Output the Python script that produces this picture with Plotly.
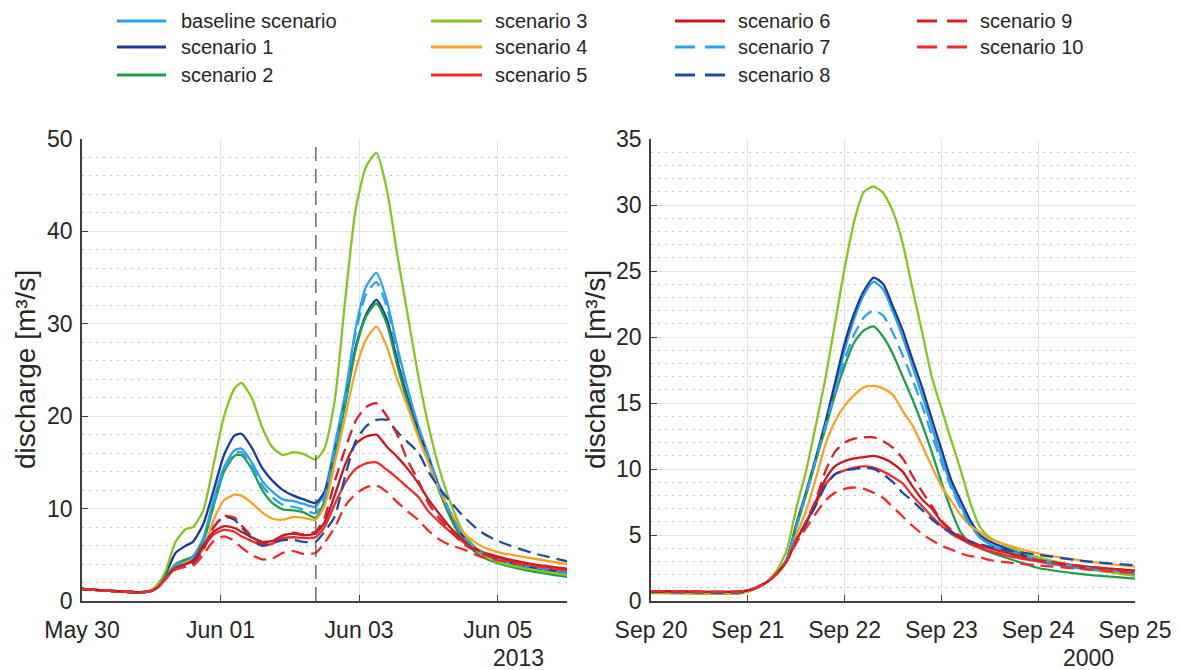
import pandas as pd
import plotly.graph_objects as go

# ---------------- data ----------------
SERIES = ["baseline scenario", "scenario 1", "scenario 2", "scenario 3", "scenario 4",
          "scenario 5", "scenario 6", "scenario 7", "scenario 8", "scenario 9", "scenario 10"]

COLORS = ["#2AA3EE", "#1B3A97", "#1E9E4A", "#86C520", "#F6A325",
          "#EE2B2B", "#C9171F", "#2AA3EE", "#1E4AA3", "#D91E26", "#EE2B2B"]
DASHED = [False, False, False, False, False, False, False, True, True, True, True]

# June 2013 event (days since start)
JUN_START = "2013-05-30"
JUN_END = "2013-06-06"
JUN_SPLIT = "2013-06-02 09:00"
JUN_DAYS = [0, 0.4, 0.85, 1.0, 1.1, 1.2, 1.35, 1.5, 1.6, 1.75, 1.9, 2.05, 2.2, 2.3, 2.45,
            2.6, 2.75, 2.9, 3.05, 3.2, 3.37, 3.5, 3.65, 3.8, 3.95, 4.1, 4.25, 4.4, 4.55,
            4.7, 4.85, 5.0, 5.15, 5.3, 5.5, 5.75, 6.0, 6.5, 7.0]

jun_baseline = [1.3, 1.1, 0.95, 1.1, 1.6, 2.5, 3.9, 4.3, 4.8, 6.8, 11.0, 14.5, 16.3, 16.5, 15.0,
                13.0, 11.8, 11.0, 10.8, 10.5, 10.2, 11.8, 17.0, 22.5, 29.5, 34.0, 35.5, 32.5, 27.5,
                23.0, 19.0, 15.8, 12.5, 9.8, 7.0, 5.3, 4.5, 3.6, 3.0]
jun_s1 = [1.3, 1.1, 0.95, 1.1, 1.7, 2.8, 5.2, 6.0, 6.4, 8.3, 12.0, 15.8, 17.9, 18.1, 16.6,
          14.4, 13.0, 12.0, 11.4, 11.0, 10.6, 11.8, 16.2, 21.5, 27.5, 31.0, 32.6, 30.5, 26.0,
          22.0, 18.5, 15.5, 12.3, 9.7, 7.0, 5.3, 4.5, 3.6, 3.1]
jun_s2 = [1.3, 1.1, 0.95, 1.1, 1.6, 2.5, 4.0, 4.5, 4.8, 6.4, 10.3, 14.0, 15.7, 15.8, 14.3,
          12.0, 10.6, 9.9, 9.8, 9.6, 9.0, 10.8, 15.8, 21.3, 27.2, 30.8, 32.2, 30.0, 25.5,
          21.5, 18.0, 15.0, 12.0, 9.3, 6.5, 4.9, 4.1, 3.2, 2.6]
jun_s3 = [1.3, 1.1, 0.95, 1.2, 1.9, 3.1, 6.4, 7.8, 8.0, 9.8, 14.8, 20.0, 23.0, 23.6, 22.0,
          18.8, 16.6, 15.8, 16.1, 15.9, 15.3, 16.5, 21.8, 32.7, 42.4, 47.0, 48.5, 44.5, 37.5,
          31.0, 24.5, 19.0, 14.5, 11.0, 7.5, 5.2, 4.2, 3.4, 2.8]
jun_s4 = [1.3, 1.1, 0.95, 1.1, 1.6, 2.4, 3.7, 4.2, 4.5, 5.6, 8.8, 10.9, 11.5, 11.4, 10.6,
          9.6, 8.9, 8.8, 9.1, 9.0, 8.8, 10.3, 15.0, 20.0, 25.0, 28.3, 29.7, 27.5, 24.0,
          21.0, 17.8, 15.0, 12.2, 9.9, 7.4, 6.0, 5.3, 4.6, 4.0]
jun_s5 = [1.3, 1.1, 0.95, 1.1, 1.5, 2.4, 3.6, 4.0, 4.3, 5.8, 7.2, 7.7, 7.5, 7.0, 6.5,
          6.0, 6.2, 6.8, 6.9, 6.8, 6.9, 8.0, 10.5, 12.8, 14.3, 14.9, 15.0, 14.2, 13.3,
          12.3, 11.3, 9.7, 8.6, 7.6, 6.4, 5.3, 4.7, 3.9, 3.3]
jun_s6 = [1.3, 1.1, 0.95, 1.1, 1.5, 2.4, 3.6, 4.0, 4.4, 6.0, 7.5, 8.1, 7.9, 7.5, 6.9,
          6.4, 6.5, 7.1, 7.3, 7.1, 7.3, 8.5, 11.5, 14.8, 17.0, 17.8, 18.0, 16.7, 15.6,
          14.3, 12.8, 11.0, 9.5, 8.1, 6.6, 5.4, 4.8, 4.0, 3.5]
jun_s7 = [1.3, 1.1, 0.95, 1.1, 1.6, 2.5, 3.9, 4.3, 4.8, 6.6, 10.7, 14.2, 16.0, 16.1, 14.6,
          12.5, 11.2, 10.4, 10.2, 9.9, 9.5, 11.3, 16.5, 22.0, 29.0, 33.2, 34.5, 31.8, 27.0,
          22.8, 19.0, 15.7, 12.5, 9.8, 7.0, 5.3, 4.5, 3.7, 3.1]
jun_s8 = [1.3, 1.1, 0.95, 1.1, 1.5, 2.4, 3.6, 3.9, 4.2, 5.6, 8.0, 9.1, 8.8, 8.0, 6.8,
          6.0, 6.3, 6.6, 6.6, 6.4, 6.4, 7.5, 9.2, 13.6, 17.3, 18.9, 19.6, 19.6, 18.3,
          17.2, 16.1, 14.0, 12.3, 10.9, 9.2, 7.5, 6.5, 5.2, 4.3]
jun_s9 = [1.3, 1.1, 0.95, 1.1, 1.5, 2.4, 3.6, 3.8, 4.0, 5.5, 8.0, 9.2, 9.0, 8.2, 7.0,
          6.2, 6.4, 7.1, 7.4, 7.2, 7.5, 9.0, 13.0, 16.5, 19.5, 21.0, 21.4, 20.0, 18.0,
          15.2, 13.1, 10.6, 9.0, 7.8, 6.2, 5.2, 4.6, 3.9, 3.4]
jun_s10 = [1.3, 1.1, 0.95, 1.1, 1.5, 2.3, 3.4, 3.7, 3.8, 5.0, 6.5, 7.0, 6.5, 5.8, 5.0,
           4.5, 4.6, 5.2, 5.4, 5.1, 5.2, 6.3, 8.0, 10.3, 11.6, 12.3, 12.5, 11.8, 10.7,
           9.7, 8.8, 7.6, 6.7, 6.1, 5.6, 4.8, 4.4, 3.8, 3.3]

# September 2000 event (days since start)
SEP_START = "2000-09-20"
SEP_END = "2000-09-25"
SEP_DAYS = [0, 0.5, 0.9, 1.0, 1.1, 1.2, 1.3, 1.4, 1.5, 1.6, 1.7, 1.8, 1.9, 2.0, 2.1, 2.2,
            2.3, 2.4, 2.5, 2.6, 2.7, 2.8, 2.9, 3.0, 3.1, 3.2, 3.3, 3.4, 3.5, 3.7, 4.0, 4.5, 5.0]

sep_baseline = [0.7, 0.65, 0.65, 0.75, 1.05, 1.45, 2.1, 3.1, 5.6, 8.0, 10.6, 13.2, 16.0, 19.0, 21.4, 23.2,
                24.2, 23.6, 21.9, 20.0, 17.8, 15.6, 13.2, 10.9, 8.8, 7.2, 5.8, 4.8, 4.3, 3.7, 3.0, 2.4, 2.0]
sep_s1 = [0.7, 0.65, 0.65, 0.75, 1.05, 1.45, 2.1, 3.1, 5.8, 8.2, 10.8, 13.5, 16.5, 19.5, 21.8, 23.5,
          24.5, 24.0, 22.3, 20.5, 18.3, 16.2, 13.8, 11.5, 9.2, 7.6, 6.1, 5.0, 4.5, 3.9, 3.1, 2.5, 2.1]
sep_s2 = [0.7, 0.65, 0.65, 0.75, 1.05, 1.45, 2.1, 3.1, 5.6, 8.0, 10.6, 13.0, 15.6, 17.8, 19.6, 20.5,
          20.8, 20.0, 18.7, 17.0, 15.3, 13.4, 11.3, 9.0, 6.9, 5.2, 4.4, 4.0, 3.7, 3.2, 2.5, 2.0, 1.7]
sep_s3 = [0.6, 0.55, 0.55, 0.7, 1.0, 1.45, 2.3, 3.8, 7.0, 9.8, 13.2, 16.8, 21.0, 25.2, 28.8, 31.0,
          31.4, 30.9, 29.5, 27.1, 23.7, 20.4, 17.0, 14.6, 12.2, 9.9, 7.4, 5.6, 4.8, 4.1, 3.3, 2.5, 1.9]
sep_s4 = [0.7, 0.65, 0.65, 0.75, 1.05, 1.45, 2.0, 3.0, 5.0, 6.8, 9.2, 11.8, 13.6, 14.8, 15.6, 16.2,
          16.3, 16.1, 15.6, 14.4, 13.3, 11.8, 10.2, 8.7, 7.6, 6.5, 5.7, 5.2, 4.7, 4.2, 3.6, 3.0, 2.6]
sep_s5 = [0.75, 0.7, 0.7, 0.8, 1.05, 1.45, 2.1, 3.0, 4.6, 5.9, 7.3, 8.8, 9.6, 9.9, 10.1, 10.2,
          10.1, 9.8, 9.4, 8.9, 8.0, 7.2, 6.4, 5.7, 5.1, 4.7, 4.3, 4.0, 3.8, 3.4, 3.0, 2.5, 2.2]
sep_s6 = [0.75, 0.7, 0.7, 0.8, 1.05, 1.45, 2.1, 3.0, 4.6, 5.9, 7.5, 9.2, 10.2, 10.6, 10.8, 10.9,
          11.0, 10.8, 10.4, 9.8, 8.7, 7.7, 7.0, 6.0, 5.3, 4.8, 4.5, 4.2, 4.0, 3.6, 3.1, 2.6, 2.3]
sep_s7 = [0.7, 0.65, 0.65, 0.75, 1.05, 1.45, 2.1, 3.1, 5.6, 8.0, 10.6, 13.2, 15.8, 18.3, 20.2, 21.5,
          22.0, 21.6, 20.3, 18.6, 16.8, 14.8, 12.6, 10.5, 8.6, 7.0, 5.7, 4.8, 4.3, 3.8, 3.1, 2.5, 2.1]
sep_s8 = [0.7, 0.65, 0.65, 0.75, 1.05, 1.45, 2.1, 3.0, 4.4, 5.8, 7.2, 8.7, 9.6, 9.9, 10.0, 10.1,
          10.0, 9.6, 9.0, 8.2, 7.6, 6.9, 6.2, 5.6, 5.2, 4.8, 4.5, 4.3, 4.1, 3.8, 3.5, 3.0, 2.7]
sep_s9 = [0.75, 0.7, 0.7, 0.8, 1.05, 1.45, 2.1, 3.0, 4.6, 6.0, 7.6, 9.8, 11.3, 12.0, 12.3, 12.4,
          12.4, 12.1, 11.6, 10.8, 9.5, 8.3, 7.2, 6.1, 5.4, 4.9, 4.5, 4.2, 4.0, 3.6, 3.1, 2.6, 2.3]
sep_s10 = [0.75, 0.7, 0.7, 0.8, 1.05, 1.45, 2.1, 3.0, 4.4, 5.5, 6.6, 7.6, 8.2, 8.5, 8.6, 8.5,
           8.2, 7.8, 7.1, 6.4, 5.7, 5.1, 4.6, 4.2, 3.9, 3.6, 3.4, 3.3, 3.1, 2.9, 2.7, 2.4, 2.1]

JUN_VALUES = [jun_baseline, jun_s1, jun_s2, jun_s3, jun_s4, jun_s5, jun_s6, jun_s7, jun_s8, jun_s9, jun_s10]
SEP_VALUES = [sep_baseline, sep_s1, sep_s2, sep_s3, sep_s4, sep_s5, sep_s6, sep_s7, sep_s8, sep_s9, sep_s10]

Y_TITLE = "discharge [m³/s]"

# ---------------- figure ----------------
W, H = 1180, 670
FONT = "Liberation Sans, Arial, Helvetica, sans-serif"
TXT = "#262626"
AX = "#404040"
PLOT_DASH = "13px,7px"


def px_x(p):
    return p / W


def px_y(p):
    return 1 - p / H


jun_x = pd.Timestamp(JUN_START) + pd.to_timedelta(JUN_DAYS, unit="D")
sep_x = pd.Timestamp(SEP_START) + pd.to_timedelta(SEP_DAYS, unit="D")

fig = go.Figure()
for i, name in enumerate(SERIES):
    line = dict(color=COLORS[i], width=2.3, shape="spline", smoothing=0.6,
                dash=PLOT_DASH if DASHED[i] else "solid")
    fig.add_trace(go.Scatter(x=jun_x, y=JUN_VALUES[i], mode="lines", name=name, line=line,
                             xaxis="x", yaxis="y", showlegend=False))
    fig.add_trace(go.Scatter(x=sep_x, y=SEP_VALUES[i], mode="lines", name=name, line=line,
                             xaxis="x2", yaxis="y2", showlegend=False))

common_x = dict(type="date", tickformat="%b %d", showgrid=True, gridcolor="#E3E3E3", gridwidth=1,
                showline=True, linecolor=AX, linewidth=1.6, ticks="inside", ticklen=6,
                tickcolor=AX, tickwidth=1.2, zeroline=False, automargin=False,
                tickfont=dict(family=FONT, size=23, color=TXT), ticklabelstandoff=8)
common_y = dict(showgrid=True, gridcolor="#E3E3E3", gridwidth=1,
                showline=True, linecolor=AX, linewidth=1.6, ticks="inside", ticklen=6,
                tickcolor=AX, tickwidth=1.2, zeroline=False, automargin=False,
                tickfont=dict(family=FONT, size=23, color=TXT), ticklabelstandoff=3)

y_dom = [px_y(601), px_y(139)]

fig.update_layout(
    width=W, height=H,
    margin=dict(l=0, r=0, t=0, b=0, pad=0),
    paper_bgcolor="white", plot_bgcolor="white",
    font=dict(family=FONT, color=TXT),
    showlegend=False,
    xaxis=dict(common_x, domain=[px_x(82), px_x(567)], anchor="y",
               range=[JUN_START, JUN_END], tick0=JUN_START, dtick=2 * 86400000),
    yaxis=dict(common_y, domain=y_dom, anchor="x", range=[0, 50], dtick=10,
               minor=dict(dtick=2, showgrid=True, gridcolor="#C4C4C4", griddash="2px,5px", gridwidth=1)),
    xaxis2=dict(common_x, domain=[px_x(651), px_x(1135)], anchor="y2",
                range=[SEP_START, SEP_END], tick0=SEP_START, dtick=86400000),
    yaxis2=dict(common_y, domain=y_dom, anchor="x2", range=[0, 35], dtick=5,
                minor=dict(dtick=1, showgrid=True, gridcolor="#C4C4C4", griddash="2px,5px", gridwidth=1)),
)

# split marker between the two June flood waves
fig.add_shape(type="line", xref="x", yref="y domain", x0=JUN_SPLIT, x1=JUN_SPLIT, y0=0, y1=1,
              line=dict(color="#555555", width=1.3, dash="14px,8px"))

# axis titles and year labels
for xc in (25, 595):
    fig.add_annotation(text=Y_TITLE, xref="paper", yref="paper", x=px_x(xc), y=px_y(370),
                       textangle=-90, showarrow=False, font=dict(family=FONT, size=28, color=TXT),
                       xanchor="center", yanchor="middle")
fig.add_annotation(text=JUN_START[:4], xref="paper", yref="paper", x=px_x(518), y=px_y(658),
                   showarrow=False, font=dict(family=FONT, size=23, color=TXT),
                   xanchor="center", yanchor="middle")
fig.add_annotation(text=SEP_START[:4], xref="paper", yref="paper", x=px_x(1088), y=px_y(658),
                   showarrow=False, font=dict(family=FONT, size=23, color=TXT),
                   xanchor="center", yanchor="middle")

# legend (4 columns x 3 rows, column-major)
LEG_COLS = [(117, 166, 179), (431, 482, 493), (675, 725, 736), (917, 967, 978)]
LEG_ROWS = [21, 47, 75]
for i, name in enumerate(SERIES):
    c, r = divmod(i, 3)
    x0, x1, xt = LEG_COLS[c]
    yr = LEG_ROWS[r]
    fig.add_shape(type="line", xref="paper", yref="paper", x0=px_x(x0), x1=px_x(x1),
                  y0=px_y(yr), y1=px_y(yr),
                  line=dict(color=COLORS[i], width=3, dash="20px,10px" if DASHED[i] else "solid"))
    fig.add_annotation(text=name, xref="paper", yref="paper", x=px_x(xt), y=px_y(yr),
                       xanchor="left", yanchor="middle", showarrow=False,
                       font=dict(family=FONT, size=20, color=TXT))

fig.write_html("out.html")
